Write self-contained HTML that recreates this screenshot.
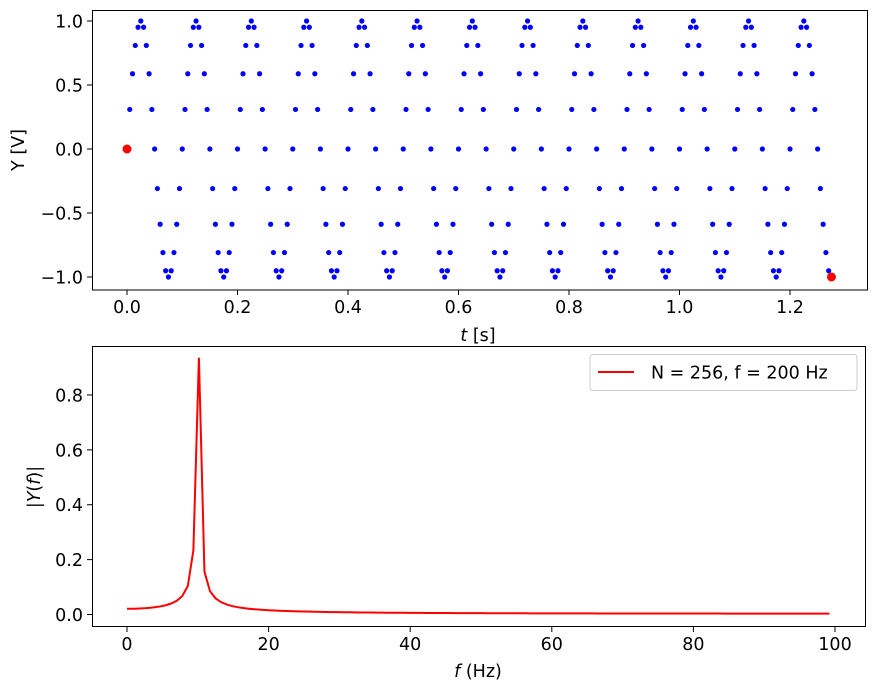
<!DOCTYPE html>
<html><head><meta charset="utf-8"><style>
body{margin:0;background:#fff}
svg text{font-family:"DejaVu Sans","Liberation Sans",sans-serif;font-size:17.5px;fill:#000}
</style></head><body>
<svg id="s" width="876" height="691" xmlns="http://www.w3.org/2000/svg">
<rect width="876" height="691" fill="#fff"/>
<g id="top"></g>
<g id="bot"></g>
<rect x="92.5" y="10.5" width="775" height="279.5" fill="none" stroke="#000" stroke-width="1"/>
<rect x="92.5" y="346.5" width="773" height="280" fill="none" stroke="#000" stroke-width="1"/>
<g id="ticks"></g>
<text x="478" y="341" text-anchor="middle"><tspan font-style="italic">t</tspan> [s]</text>
<text transform="translate(24,150) rotate(-90)" text-anchor="middle">Y [V]</text>
<text x="478" y="677" text-anchor="middle"><tspan font-style="italic">f</tspan> (Hz)</text>
<text transform="translate(40,487) rotate(-90)" text-anchor="middle">|<tspan font-style="italic">Y</tspan>(<tspan font-style="italic">f</tspan>)|</text>
<rect x="590" y="354.5" width="267" height="36" rx="3" fill="#fff" stroke="#ccc"/>
<line x1="598" y1="372" x2="634" y2="372" stroke="red" stroke-width="2"/>
<text x="651" y="378.5">N = 256, f = 200 Hz</text>
</svg>
<script>
var ns="http://www.w3.org/2000/svg";
function el(p,t,a){var e=document.createElementNS(ns,t);for(var k in a)e.setAttribute(k,a[k]);document.getElementById(p).appendChild(e);return e;}
var N=256,fs=200,f0=10;
var tx=function(t){return 127+t*552.5},ty=function(y){return 149-y*128};
var ys=[];
for(var n=0;n<N;n++){var t=n/fs,y=Math.sin(2*Math.PI*f0*t);ys.push(y);
el("top","circle",{cx:tx(t),cy:ty(y),r:2.6,fill:"blue"});}
el("top","circle",{cx:tx(0),cy:ty(0),r:4.5,fill:"red"});
el("top","circle",{cx:tx(255/fs),cy:ty(ys[255]),r:4.5,fill:"red"});
var fx=function(f){return 127+f*7.08},fy=function(v){return 614.5-v*274.4};
var pts=[];
for(var k=0;k<N/2;k++){var re=0,im=0;for(var n=0;n<N;n++){var a=-2*Math.PI*k*n/N;re+=ys[n]*Math.cos(a);im+=ys[n]*Math.sin(a);}
var m=2*Math.sqrt(re*re+im*im)/N;pts.push(fx(k*fs/N).toFixed(2)+","+fy(m).toFixed(2));}
el("bot","polyline",{points:pts.join(" "),fill:"none",stroke:"red","stroke-width":2});
function tick(x1,y1,x2,y2){el("ticks","line",{x1:x1,y1:y1,x2:x2,y2:y2,stroke:"#000"});}
function lab(x,y,s,anc){var e=el("ticks","text",{x:x,y:y,"text-anchor":anc});e.textContent=s;}
[0,0.2,0.4,0.6,0.8,1.0,1.2].forEach(function(t){var x=tx(t);tick(x,290,x,295);lab(x,313,t.toFixed(1),"middle");});
[-1,-0.5,0,0.5,1].forEach(function(v){var y=ty(v);tick(92,y,87,y);lab(83,y+6.5,(v<0?"\u2212":"")+Math.abs(v).toFixed(1),"end");});
[0,20,40,60,80,100].forEach(function(f){var x=fx(f);tick(x,627,x,632);lab(x,650,""+f,"middle");});
[0,0.2,0.4,0.6,0.8].forEach(function(v){var y=fy(v);tick(92,y,87,y);lab(83,y+6.5,v.toFixed(1),"end");});
</script>
</body></html>
